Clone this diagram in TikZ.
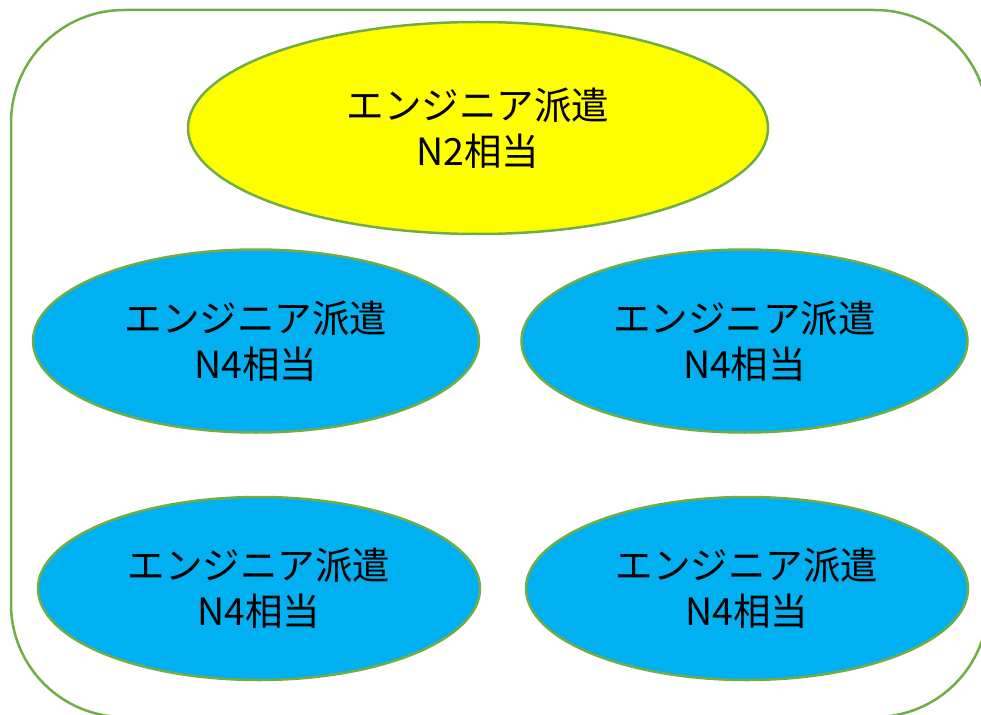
\documentclass[tikz,border=0pt]{standalone}
\usepackage{fontspec}
\newfontfamily\jp{Noto Sans CJK JP}
\usetikzlibrary{shapes.geometric}
\definecolor{lgreen}{HTML}{70AD47}
\definecolor{skyb}{HTML}{00B0F0}
\definecolor{yel}{HTML}{FFFF00}
\begin{document}
\begin{tikzpicture}[x=1pt,y=1pt,
  oval/.style={ellipse, draw=lgreen, line width=2.5pt, inner sep=0pt, align=center,
    font=\jp\fontsize{37.5}{46}\selectfont, text=black},
  blueoval/.style={oval, fill=skyb, minimum width=446pt, minimum height=183pt},
  frame/.style={draw=lgreen, line width=2.5pt, rounded corners=113pt}]
\useasboundingbox (0,0) rectangle (981,-714);
\draw[frame] (11,-10) rectangle (988,-717);
\node[oval, fill=yel, minimum width=580pt, minimum height=212pt] (top) at (478,-128) {エンジニア派遣\\N2相当};
\node[blueoval] (tl) at (256,-341) {エンジニア派遣\\N4相当};
\node[blueoval] (tr) at (744.5,-341) {エンジニア派遣\\N4相当};
\node[blueoval, minimum width=442pt] (bl) at (259,-588.5) {エンジニア派遣\\N4相当};
\node[blueoval, minimum width=442pt] (br) at (747,-588.5) {エンジニア派遣\\N4相当};
\end{tikzpicture}
\end{document}
